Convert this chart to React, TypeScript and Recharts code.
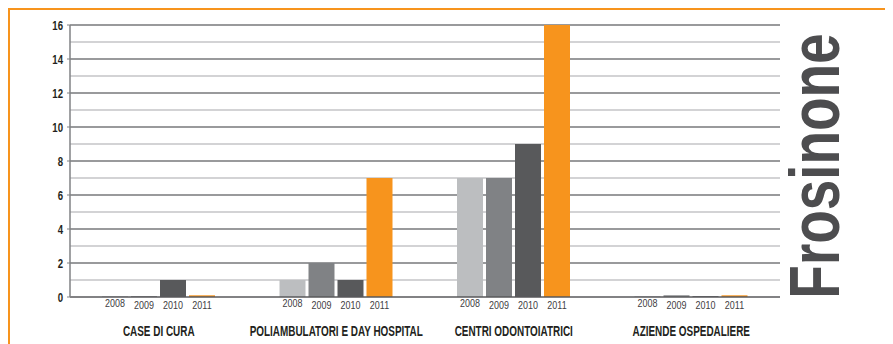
import { BarChart, Bar, XAxis, YAxis, CartesianGrid, LabelList } from "recharts";

const categories = [
  "CASE DI CURA",
  "POLIAMBULATORI E DAY HOSPITAL",
  "CENTRI ODONTOIATRICI",
  "AZIENDE OSPEDALIERE",
];
const years = ["2008", "2009", "2010", "2011"];

const values2008 = [0.05, 1, 7, 0.05];
const values2009 = [0.05, 2, 7, 0.1];
const values2010 = [1, 1, 9, 0.05];
const values2011 = [0.1, 7, 16, 0.1];

const yTicks = [0, 2, 4, 6, 8, 10, 12, 14, 16];
const majorLines = [2, 4, 6, 8, 10, 12, 14, 16];
const minorLines = [1, 3, 5, 7, 9, 11, 13, 15];

const colors = ["#bcbec0", "#808285", "#58595b", "#f7941d"];
const FONT = "'Liberation Sans', Arial, sans-serif";

const data = categories.map((name, i) => ({
  name,
  y2008: values2008[i],
  y2009: values2009[i],
  y2010: values2010[i],
  y2011: values2011[i],
}));

// condensed look: squeeze a regular sans horizontally
const NarrowText = ({ x, y, anchor = "middle", size, weight = "normal", squeeze = 0.8, fill, children }: any) => (
  <text
    transform={`translate(${x},${y}) scale(${squeeze},1)`}
    textAnchor={anchor}
    fontSize={size}
    fontWeight={weight}
    fontFamily={FONT}
    fill={fill}
  >
    {children}
  </text>
);

const yearLabel = (year: string) => (props: any) => {
  const { x, y, width, height } = props;
  return (
    <NarrowText x={x + width / 2} y={y + height + (year === "2008" ? 10 : 12)} size={11.5} squeeze={0.78} fill="#414042">
      {year}
    </NarrowText>
  );
};

const GroupTick = (props: any) => {
  const { x, y, payload } = props;
  return (
    <NarrowText x={x} y={y + 39} size={14} squeeze={0.71} weight="bold" fill="#231f20">
      {payload.value}
    </NarrowText>
  );
};

const ValueTick = (props: any) => {
  const { x, y, payload } = props;
  return (
    <NarrowText x={x} y={y + 4.5} anchor="end" size={13} squeeze={0.74} weight="bold" fill="#231f20">
      {payload.value}
    </NarrowText>
  );
};

export default function App() {
  return (
    <div
      style={{
        position: "relative",
        width: 883,
        height: 334,
        borderTop: "2px solid #f7941d",
        borderLeft: "2px solid #f7941d",
        background: "#fff",
      }}
    >
      <BarChart
        width={883}
        height={334}
        data={data}
        margin={{ top: 15, right: 113, bottom: 0, left: 0 }}
        barCategoryGap={32}
        barGap={3}
        barSize={26}
      >
        <CartesianGrid vertical={false} horizontalValues={minorLines} stroke="#c4c5c7" strokeWidth={1.5} />
        <CartesianGrid vertical={false} horizontalValues={majorLines} stroke="#77787b" strokeWidth={1.5} />
        <XAxis
          dataKey="name"
          height={47}
          tickSize={0}
          tickMargin={0}
          interval={0}
          tick={<GroupTick />}
          axisLine={{ stroke: "#58595b", strokeWidth: 1.5 }}
        />
        <YAxis
          width={60}
          domain={[0, 16]}
          ticks={yTicks}
          interval={0}
          tickSize={3}
          tickMargin={4}
          axisLine={{ stroke: "#808285", strokeWidth: 1.5 }}
          tickLine={{ stroke: "#808285" }}
          tick={<ValueTick />}
        />
        {years.map((year, i) => (
          <Bar key={year} dataKey={`y${year}`} fill={colors[i]} isAnimationActive={false}>
            <LabelList content={yearLabel(year)} />
          </Bar>
        ))}
      </BarChart>
      <div
        style={{
          position: "absolute",
          left: 805,
          top: 155.5,
          transform: "translate(-50%, -50%) rotate(-90deg) scale(0.784, 1)",
          fontFamily: FONT,
          fontWeight: "bold",
          fontSize: 70,
          lineHeight: 1,
          color: "#4d4d4f",
          whiteSpace: "nowrap",
        }}
      >
        Frosinone
      </div>
    </div>
  );
}
